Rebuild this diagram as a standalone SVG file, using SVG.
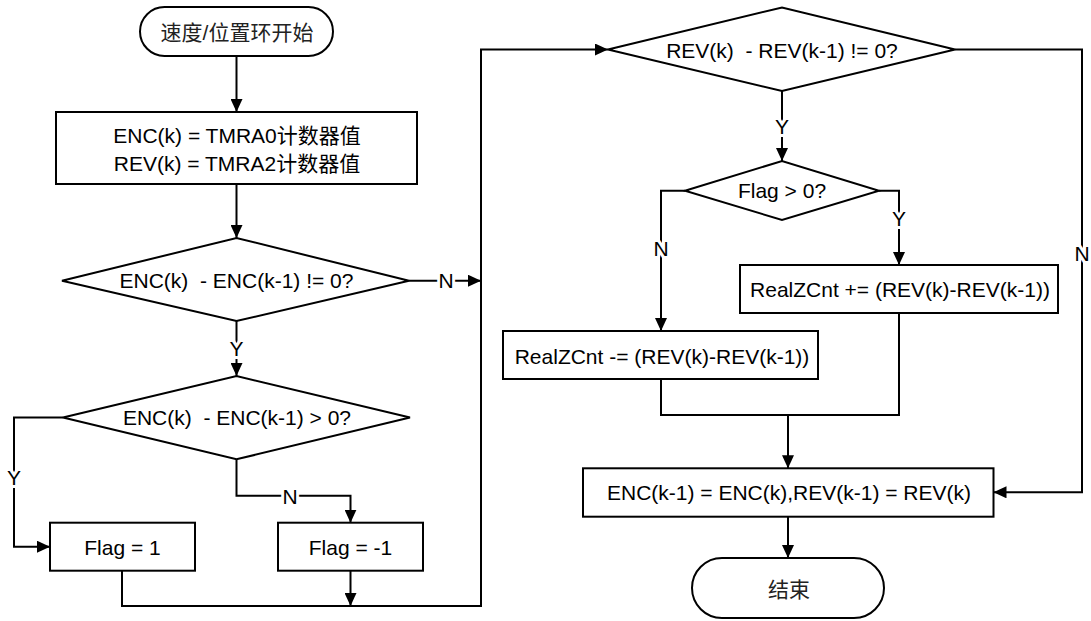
<svg xmlns="http://www.w3.org/2000/svg" width="1091" height="621" viewBox="0 0 1091 621">
  <defs>
    <marker id="arrow" markerUnits="userSpaceOnUse" markerWidth="13" markerHeight="12" refX="13" refY="6" orient="auto">
      <path d="M0,0 L13,6 L0,12 z" fill="#000"/>
    </marker>
    <style>
      .shape { fill: #fff; stroke: #000; stroke-width: 2; }
      .line { fill: none; stroke: #000; stroke-width: 2; }
      .arr { marker-end: url(#arrow); }
      text { font-family: "Liberation Sans", Arial, "Noto Sans CJK SC", sans-serif; font-size: 21px; fill: #000; text-anchor: middle; }
      .cjk { fill: #222; }
      .lbl { stroke: #fff; stroke-width: 6; paint-order: stroke; stroke-linejoin: round; }
    </style>
  </defs>
  <rect width="1091" height="621" fill="#fff"/>

  <!-- connectors -->
  <g id="connectors">
    <path class="line arr" d="M236.5,56 V112"/>
    <path class="line arr" d="M236.5,184 V238"/>
    <path class="line arr" d="M236.5,321 V376"/>
    <path class="line arr" d="M409,280.7 H481"/>
    <path class="line arr" d="M63,417.5 H14 V546.7 H50"/>
    <path class="line arr" d="M236.5,459.3 V495.7 H350.5 V522.7"/>
    <path class="line arr" d="M122,570.7 V606 H481 V49.5 H608"/>
    <path class="line arr" d="M350.5,570.7 V606"/>
    <path class="line arr" d="M782,91 V161"/>
    <path class="line arr" d="M955,49.5 H1082 V492.3 H993.5"/>
    <path class="line arr" d="M685,190.7 H661 V331"/>
    <path class="line arr" d="M879,190.7 H899 V265"/>
    <path class="line" d="M661,379 V415 H899 V313"/>
    <path class="line arr" d="M788,415 V468.3"/>
    <path class="line arr" d="M788,516.7 V558"/>

    <text class="lbl" x="236.5" y="355.5">Y</text>
    <text class="lbl" x="446" y="288">N</text>
    <text class="lbl" x="14" y="484.5">Y</text>
    <text class="lbl" x="290" y="503.5">N</text>
    <text class="lbl" x="782" y="133.5">Y</text>
    <text class="lbl" x="661" y="255.5">N</text>
    <text class="lbl" x="899" y="225.5">Y</text>
    <text class="lbl" x="1082" y="260.5">N</text>
  </g>

  <!-- start terminator -->
  <g id="start">
    <rect class="shape" x="140" y="7" width="193" height="49" rx="24.5"/>
    <text class="cjk" x="237" y="40">速度/位置环开始</text>
  </g>

  <!-- read counters -->
  <g id="read">
    <rect class="shape" x="56" y="112" width="361" height="72"/>
    <text x="237" y="142.5">ENC(k) = TMRA0计数器值</text>
    <text x="237" y="170.5">REV(k) = TMRA2计数器值</text>
  </g>

  <!-- ENC changed? -->
  <g id="encChanged">
    <polygon class="shape" points="62,280.7 236.5,238 409,280.7 236.5,321"/>
    <text x="236.5" y="288" xml:space="preserve">ENC(k)  - ENC(k-1) != 0?</text>
  </g>

  <!-- ENC direction -->
  <g id="encPositive">
    <polygon class="shape" points="63,417.5 236.5,376 410,417.5 236.5,459.3"/>
    <text x="237" y="425" xml:space="preserve">ENC(k)  - ENC(k-1) &gt; 0?</text>
  </g>

  <g id="flagPos">
    <rect class="shape" x="50" y="522.7" width="145" height="48"/>
    <text x="122.5" y="554.5">Flag = 1</text>
  </g>

  <g id="flagNeg">
    <rect class="shape" x="278" y="522.7" width="145" height="48"/>
    <text x="350.5" y="554.5">Flag = -1</text>
  </g>

  <!-- REV changed? -->
  <g id="revChanged">
    <polygon class="shape" points="608,49.5 782,7.5 955,49.5 782,91"/>
    <text x="782" y="57.5" xml:space="preserve">REV(k)  - REV(k-1) != 0?</text>
  </g>

  <g id="flagCheck">
    <polygon class="shape" points="685,190.7 782,161 879,190.7 782,220"/>
    <text x="782" y="197.5">Flag &gt; 0?</text>
  </g>

  <g id="countUp">
    <rect class="shape" x="740" y="265" width="318" height="48"/>
    <text x="900" y="296.5">RealZCnt += (REV(k)-REV(k-1))</text>
  </g>

  <g id="countDown">
    <rect class="shape" x="503" y="331" width="315" height="48"/>
    <text x="662" y="364">RealZCnt -= (REV(k)-REV(k-1))</text>
  </g>

  <g id="store">
    <rect class="shape" x="583" y="468.3" width="410.5" height="48.4"/>
    <text x="789" y="500">ENC(k-1) = ENC(k),REV(k-1) = REV(k)</text>
  </g>

  <!-- end terminator -->
  <g id="end">
    <rect class="shape" x="692" y="558" width="192" height="60" rx="30"/>
    <text class="cjk" x="789" y="597">结束</text>
  </g>
</svg>
